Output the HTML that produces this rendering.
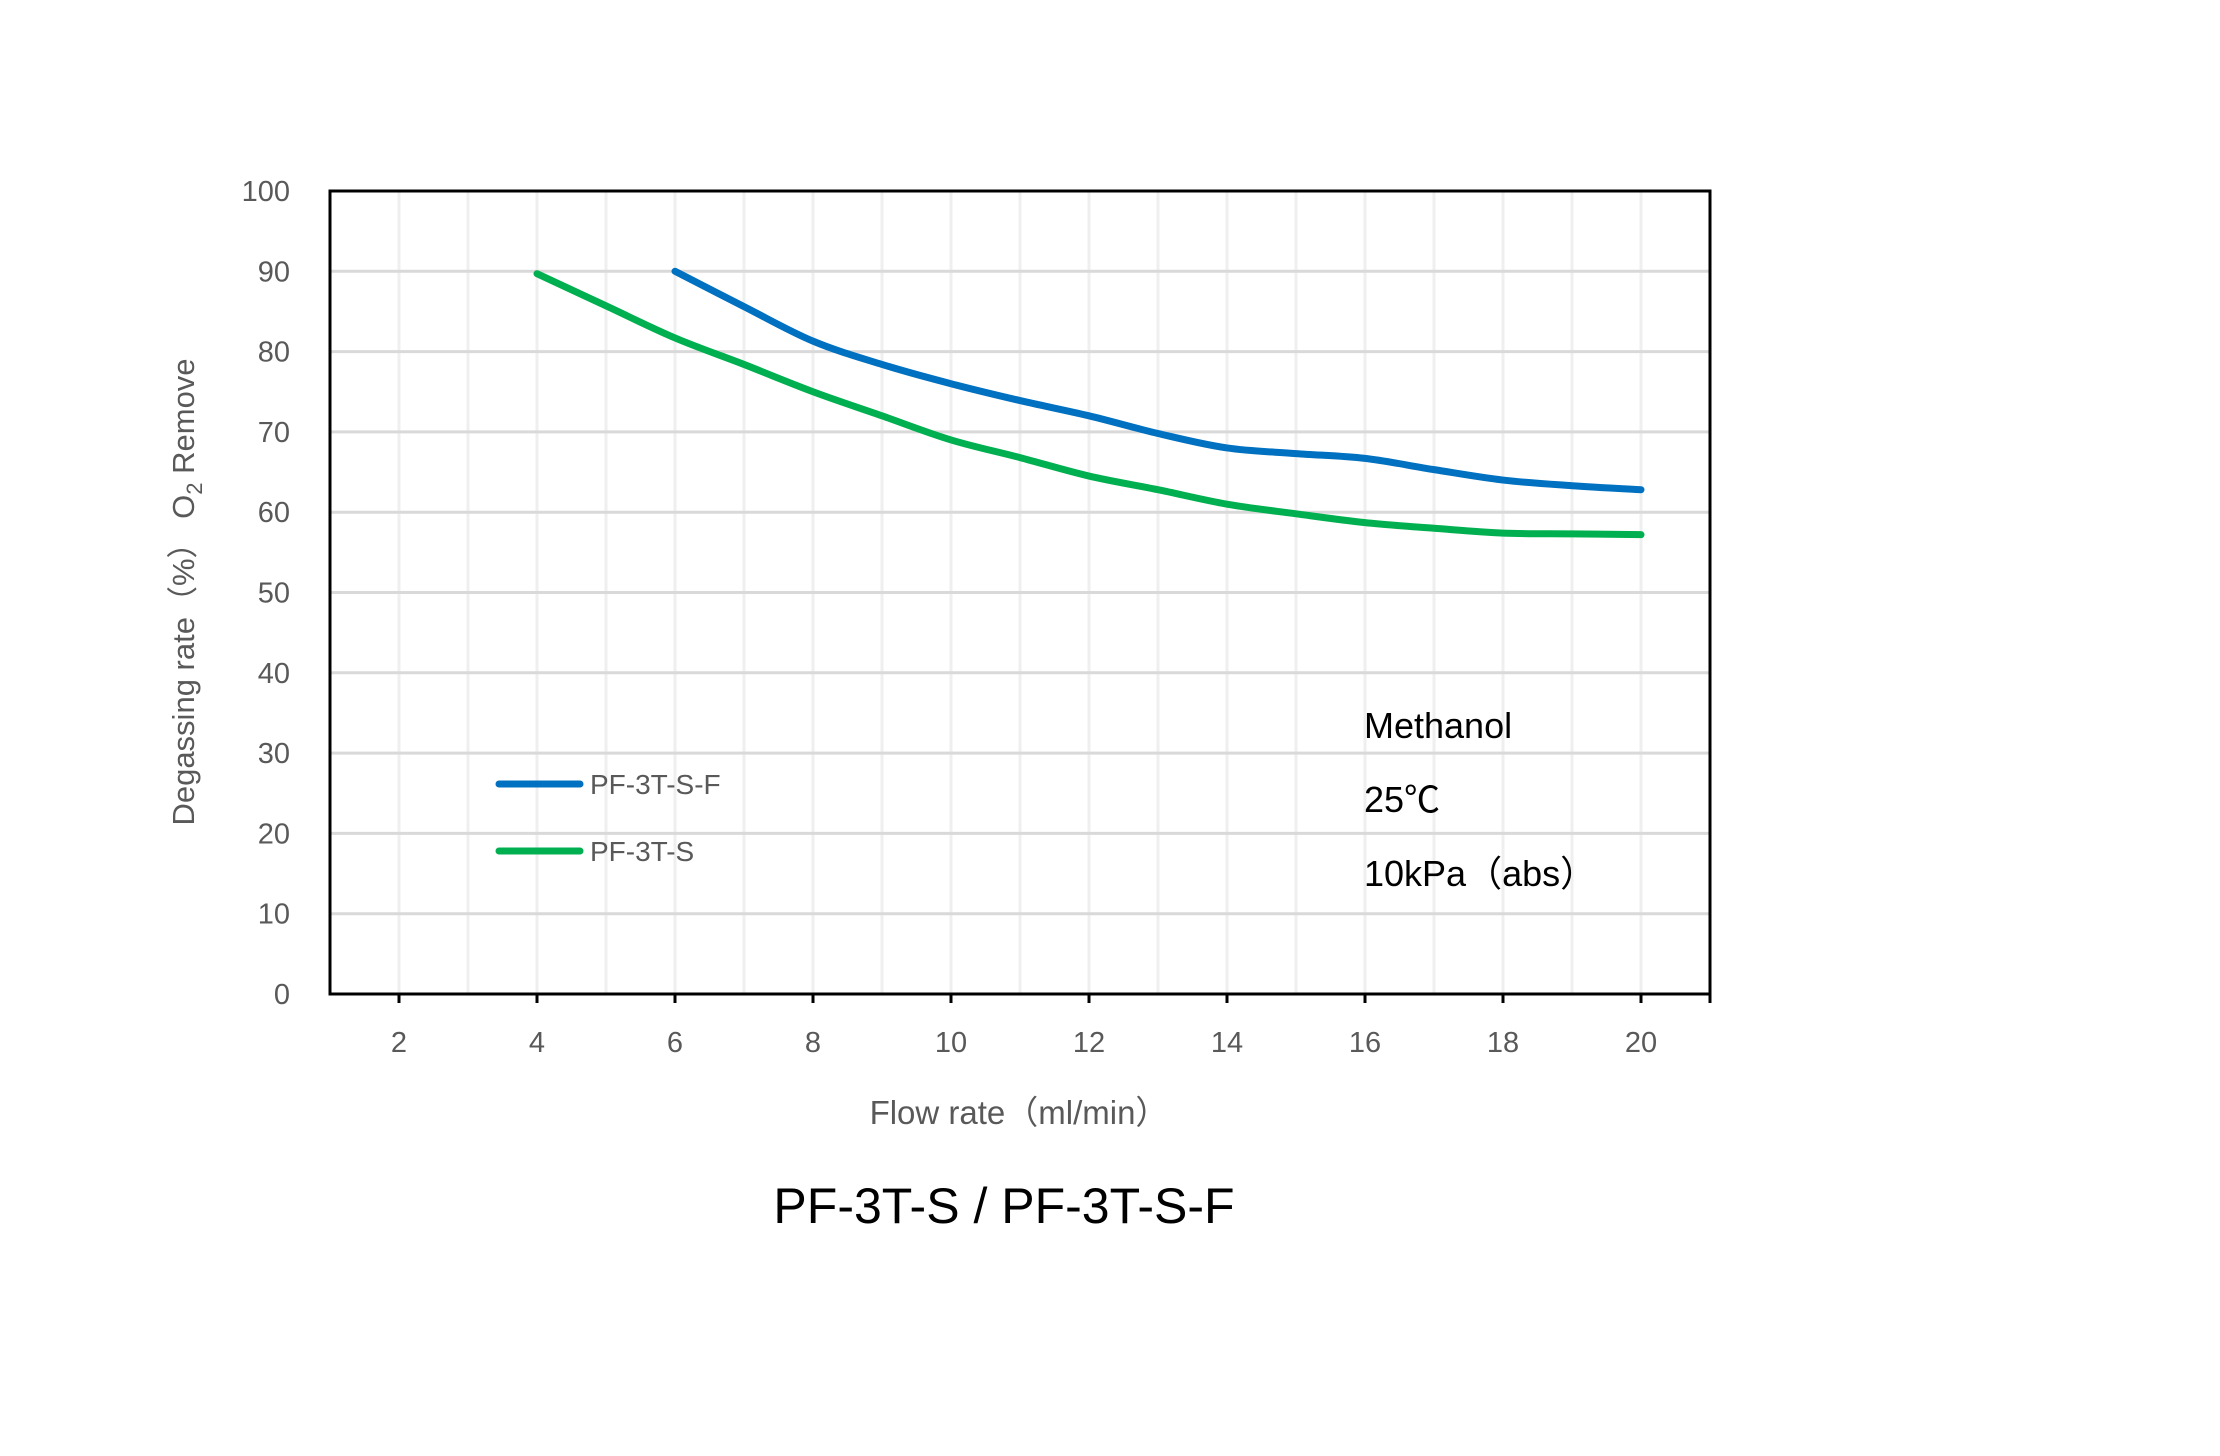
<!DOCTYPE html>
<html><head><meta charset="utf-8"><style>
html,body{margin:0;padding:0;background:#fff;}
svg{display:block;font-family:"Liberation Sans","Noto Sans CJK JP",sans-serif;}
</style></head><body>
<svg id="chart" width="2220" height="1456" viewBox="0 0 2220 1456" xmlns="http://www.w3.org/2000/svg">
<rect width="2220" height="1456" fill="#fff"/>
<g id="grid"></g>
<g id="series"></g>
<g id="axes"></g>
<text transform="translate(194,592) rotate(-90)" text-anchor="middle" font-size="31" fill="#595959">Degassing rate（%） O<tspan font-size="22" dy="8">2</tspan><tspan dy="-8"> Remove</tspan></text>
<text x="1019" y="1124" text-anchor="middle" font-size="33" fill="#595959">Flow rate（ml/min）</text>
<text x="1004" y="1223" text-anchor="middle" font-size="50" fill="#000">PF-3T-S / PF-3T-S-F</text>
<g font-size="36" fill="#000">
<text x="1364" y="738">Methanol</text>
<text x="1364" y="812">25℃</text>
<text x="1364" y="886">10kPa（abs）</text>
</g>
<g>
<line x1="499" y1="784" x2="580" y2="784" stroke="#0070c0" stroke-width="7" stroke-linecap="round"/>
<text x="590" y="794" font-size="28" fill="#595959">PF-3T-S-F</text>
<line x1="499" y1="851" x2="580" y2="851" stroke="#00b050" stroke-width="7" stroke-linecap="round"/>
<text x="590" y="861" font-size="28" fill="#595959">PF-3T-S</text>
</g>
</svg>
<script>
const xBlue = [6,7,8,9,10,11,12,13,14,15,16,17,18,19,20];
const yBlue = [90,85.6,81.3,78.4,76,73.9,72,69.8,68,67.3,66.7,65.3,64,63.3,62.8];
const xGreen = [4,5,6,7,8,9,10,11,12,13,14,15,16,17,18,19,20];
const yGreen = [89.7,85.7,81.7,78.4,75,72,69,66.8,64.5,62.8,61,59.8,58.7,58,57.4,57.3,57.2];
const yTicks = [0,10,20,30,40,50,60,70,80,90,100];
const xTicks = [2,4,6,8,10,12,14,16,18,20];

const L=330,R=1710,T=191,B=994,XMIN=1,XMAX=21,YMIN=0,YMAX=100;
const sx=v=>L+(v-XMIN)/(XMAX-XMIN)*(R-L);
const sy=v=>B-(v-YMIN)/(YMAX-YMIN)*(B-T);
const NS="http://www.w3.org/2000/svg";
function mk(tag,attrs,parent){const e=document.createElementNS(NS,tag);for(const k in attrs)e.setAttribute(k,attrs[k]);parent.appendChild(e);return e;}
const grid=document.getElementById('grid'),axes=document.getElementById('axes'),series=document.getElementById('series');

for(let v=XMIN+1;v<XMAX;v++){
  const l=mk('line',{x1:sx(v),x2:sx(v),y1:T,y2:B,stroke:'#efefef','stroke-width':3},grid);
  
  
}
yTicks.forEach(v=>{
  const l=mk('line',{x1:L,x2:R,y1:sy(v),y2:sy(v),stroke:'#d9d9d9','stroke-width':3},grid);
  
  
  const t=mk('text',{x:290,y:sy(v)+10,'text-anchor':'end','font-size':29,fill:'#595959'},axes);
  t.textContent=v;
  
  
});
xTicks.forEach(v=>{
  const k=mk('line',{x1:sx(v),x2:sx(v),y1:B,y2:B+9,stroke:'#000','stroke-width':3},axes);
  
  
  const t=mk('text',{x:sx(v),y:B+58,'text-anchor':'middle','font-size':29,fill:'#595959'},axes);
  t.textContent=v;
  
  
});
const rk=mk('line',{x1:R,x2:R,y1:B,y2:B+9,stroke:'#000','stroke-width':3},axes);


const frame=mk('rect',{x:L,y:T,width:R-L,height:B-T,fill:'none',stroke:'#000','stroke-width':3},axes);



function smooth(xs,ys){
  const p=xs.map((x,i)=>[sx(x),sy(ys[i])]);
  let d='M'+p[0][0]+','+p[0][1];
  for(let i=0;i<p.length-1;i++){
    const p0=p[i-1]||p[i],p1=p[i],p2=p[i+1],p3=p[i+2]||p2;
    const c1=[p1[0]+(p2[0]-p0[0])/6,p1[1]+(p2[1]-p0[1])/6];
    const c2=[p2[0]-(p3[0]-p1[0])/6,p2[1]-(p3[1]-p1[1])/6];
    d+=' C'+c1+' '+c2+' '+p2;
  }
  return d;
}
const g=mk('path',{d:smooth(xGreen,yGreen),fill:'none',stroke:'#00b050','stroke-width':7,'stroke-linecap':'round'},series);


const b=mk('path',{d:smooth(xBlue,yBlue),fill:'none',stroke:'#0070c0','stroke-width':7,'stroke-linecap':'round'},series);


</script>
</body></html>
